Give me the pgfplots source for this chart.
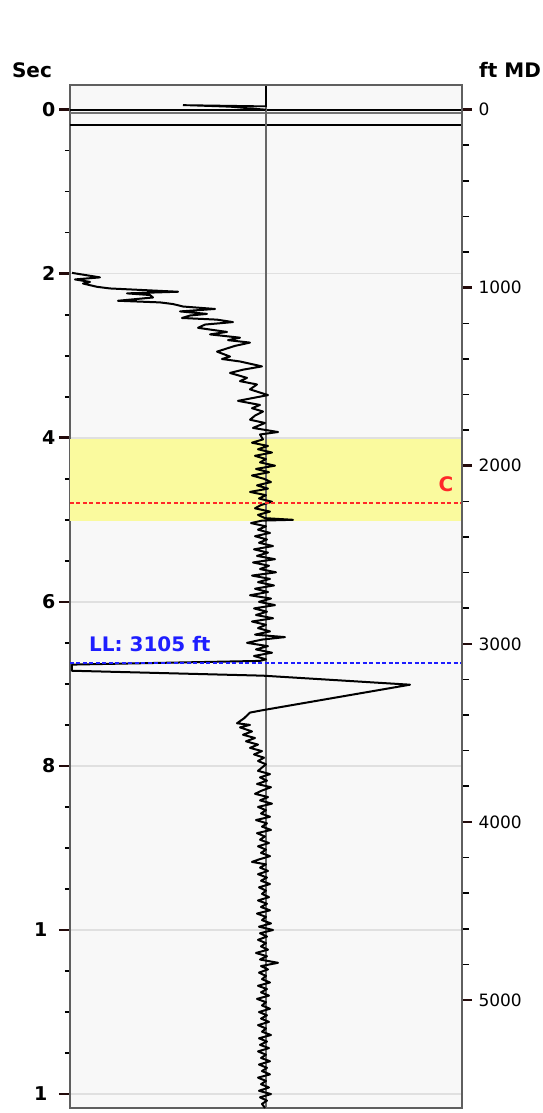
\documentclass[border=0pt]{standalone}
\usepackage{pgfplots}
\pgfplotsset{compat=1.18}
\usepackage{fontspec}
\setmainfont{DejaVu Sans}

\definecolor{bandyellow}{RGB}{250,250,158}
\definecolor{plotbg}{RGB}{248,248,248}
\definecolor{framegray}{RGB}{95,95,95}
\definecolor{tickdark}{RGB}{35,10,10}
\definecolor{llblue}{RGB}{30,30,255}
\definecolor{cred}{RGB}{255,40,40}

\begin{document}
\begin{tikzpicture}
\begin{axis}[
  name=ax,
  scale only axis,
  width=392pt, height=1023pt,
  xmin=70, xmax=462,
  ymin=-0.3, ymax=12.17,
  y dir=reverse,
  axis background/.style={fill=plotbg},
  axis line style={framegray, line width=1.8pt},
  xtick=\empty,
  ytick={0,2,4,6,8,10,12},
  yticklabels={0,2,4,6,8,1\rule{8pt}{0pt},1\rule{8pt}{0pt}},
  minor y tick num=3,
  ytick pos=left,
  tick align=outside,
  major tick length=11pt,
  minor tick length=5pt,
  major tick style={tickdark, line width=2.6pt},
  minor tick style={black, line width=1.6pt},
  ymajorgrids,
  major grid style={black!12, line width=1.6pt},
  yticklabel style={font=\bfseries\fontsize{19}{19}\selectfont},
  /pgf/number format/assume math mode=true,
]
% shaded zone
\addplot[draw=none, fill=bandyellow] coordinates {(70,4.02) (462,4.02) (462,5.02) (70,5.02)} --cycle;
% section lines at the top
\addplot[black, line width=2pt] coordinates {(70,0.0) (462,0.0)};
\addplot[black!55, line width=1.5pt] coordinates {(70,0.04) (462,0.04)};
\addplot[black, line width=1.5pt] coordinates {(70,0.19) (462,0.19)};
% center line
\addplot[black!60, line width=1.6pt] coordinates {(266,-0.3) (266,12.17)};
% trace near surface
\addplot[black, line width=1.8pt] coordinates {
  (266,-0.29) (266,-0.04) (183,-0.055) (230,-0.035) (250,-0.015) (266,0.0)};
% main trace
\addplot[black, line width=2pt, line join=round] coordinates {
  (72,1.99) (100,2.045) (75,2.07) (90,2.10) (83,2.12) (97,2.16) (110,2.18)
  (178,2.22) (127,2.24) (150,2.26) (153,2.29) (118,2.33) (160,2.35) (173,2.37)
  (183,2.40) (215,2.43) (180,2.46) (207,2.49) (190,2.51) (182,2.54) (217,2.56)
  (233,2.59) (205,2.62) (198,2.66) (227,2.71) (210,2.74) (240,2.78) (228,2.81)
  (250,2.84) (235,2.88) (217,2.95) (230,3.01) (222,3.04) (240,3.07) (262,3.13)
  (243,3.17) (230,3.21) (247,3.27) (240,3.31) (257,3.35) (250,3.41) (268,3.48)
  (238,3.55) (260,3.60) (252,3.64) (263,3.68) (255,3.73) (250,3.78) (265,3.82)
  (253,3.88) (278,3.93) (260,3.96) (263,4.02)
  (252,4.06) (268,4.10) (258,4.14) (272,4.18) (255,4.22) (266,4.26) (260,4.30)
  (275,4.34) (256,4.38) (269,4.42) (252,4.46) (264,4.50) (271,4.54) (257,4.58)
  (268,4.62) (250,4.66) (266,4.70) (259,4.74) (272,4.78) (261,4.82) (255,4.86)
  (270,4.90) (258,4.94) (265,4.98) (293,5.00) (262,5.01) (251,5.04) (266,5.08)
  (258,5.12) (270,5.16) (255,5.20) (267,5.24) (259,5.28) (273,5.32) (254,5.36)
  (268,5.40) (257,5.44) (275,5.48) (253,5.52) (269,5.56) (260,5.60) (276,5.64)
  (252,5.68) (270,5.72) (258,5.76) (274,5.80) (255,5.84) (268,5.88) (250,5.92)
  (271,5.96) (259,6.00) (275,6.04) (254,6.08) (267,6.12) (256,6.16) (273,6.20)
  (252,6.24) (266,6.28) (258,6.32) (270,6.36) (255,6.40) (285,6.43) (262,6.46)
  (247,6.50) (268,6.54) (256,6.58) (272,6.62) (254,6.66) (266,6.70) (260,6.72)
  (72,6.765) (72,6.84) (263,6.90) (410,7.01) (263,7.32) (250,7.35) (244,7.42)
  (237,7.48) (250,7.50) (240,7.53) (252,7.58) (243,7.62) (255,7.66) (246,7.70)
  (258,7.74) (250,7.78) (262,7.82) (254,7.86) (264,7.90) (258,7.94) (266,7.98)
  (262,8.02) (258,8.06) (270,8.10) (260,8.14) (267,8.18) (257,8.22) (271,8.26)
  (262,8.30) (255,8.34) (268,8.38) (260,8.42) (272,8.46) (258,8.50) (266,8.54)
  (261,8.58) (270,8.62) (256,8.66) (267,8.70) (262,8.74) (271,8.78) (257,8.82)
  (265,8.86) (260,8.90) (269,8.94) (258,8.98) (266,9.02) (261,9.06) (270,9.10)
  (259,9.14) (252,9.17) (266,9.20) (260,9.24) (268,9.28) (258,9.32) (267,9.36)
  (261,9.40) (270,9.44) (259,9.48) (266,9.52) (262,9.56) (269,9.60) (258,9.64)
  (267,9.68) (261,9.72) (270,9.76) (257,9.80) (266,9.84) (262,9.88) (271,9.92)
  (259,9.96) (273,10.00) (260,10.04) (267,10.08) (258,10.12) (266,10.16)
  (261,10.20) (268,10.24) (256,10.28) (267,10.32) (260,10.36) (278,10.40)
  (261,10.44) (268,10.48) (259,10.52) (266,10.56) (262,10.60) (270,10.64)
  (258,10.68) (267,10.72) (261,10.76) (269,10.80) (257,10.84) (266,10.88)
  (262,10.92) (270,10.96) (259,11.00) (267,11.04) (261,11.08) (269,11.12)
  (258,11.16) (266,11.20) (262,11.24) (271,11.28) (259,11.32) (267,11.36)
  (260,11.40) (269,11.44) (258,11.48) (266,11.52) (261,11.56) (270,11.60)
  (259,11.64) (267,11.68) (262,11.72) (270,11.76) (258,11.80) (266,11.84)
  (261,11.88) (269,11.92) (259,11.96) (271,12.00) (260,12.04) (267,12.08)
  (262,12.12) (265,12.17)};
% markers
\addplot[cred, line width=2pt, dash pattern=on 4pt off 2.5pt] coordinates {(70,4.79) (462,4.79)};
\addplot[llblue, line width=2pt, dash pattern=on 4pt off 2.5pt] coordinates {(70,6.74) (462,6.74)};
\node[text=cred, font=\bfseries\fontsize{20}{20}\selectfont] at (axis cs:446,4.57) {C};
\node[text=llblue, anchor=west, font=\bfseries\fontsize{20}{20}\selectfont, inner sep=0pt] at (axis cs:89,6.52) {LL: 3105 ft};
\end{axis}
\begin{axis}[
  scale only axis,
  width=392pt, height=1023pt,
  xmin=70, xmax=462,
  ymin=-138.2, ymax=5606.7,
  y dir=reverse,
  axis x line=none,
  axis y line*=right,
  axis line style={framegray, line width=1.8pt},
  ytick={0,1000,2000,3000,4000,5000},
  minor y tick num=4,
  tick align=outside,
  major tick length=10pt,
  minor tick length=7pt,
  major tick style={tickdark, line width=2.6pt},
  minor tick style={black, line width=1.6pt},
  yticklabel style={font=\fontsize{17}{17}\selectfont, xshift=3pt, /pgf/number format/1000 sep={}},
  /pgf/number format/assume math mode=true,
]
\end{axis}
\node[anchor=base, font=\bfseries\fontsize{20}{20}\selectfont] at ([xshift=-38pt,yshift=7pt]ax.north west) {Sec};
\node[anchor=base, font=\bfseries\fontsize{20}{20}\selectfont] at ([xshift=48pt,yshift=7pt]ax.north east) {ft MD};
\pgfresetboundingbox
\path[use as bounding box] ([xshift=-70pt,yshift=-5pt]ax.south west) rectangle ([xshift=80pt,yshift=85pt]ax.north east);
\end{tikzpicture}
\end{document}
